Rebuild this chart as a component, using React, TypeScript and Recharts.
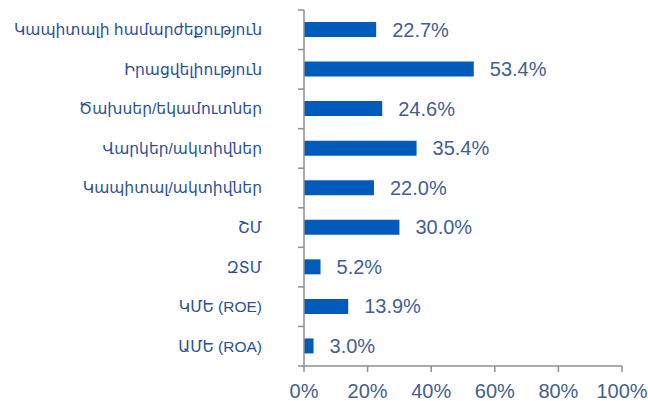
import { Bar, BarChart, LabelList, XAxis, YAxis } from 'recharts';

const categories = [
  'Կապիտալի համարժեքություն',
  'Իրացվելիություն',
  'Ծախսեր/եկամուտներ',
  'Վարկեր/ակտիվներ',
  'Կապիտալ/ակտիվներ',
  'ՇՄ',
  'ԶՏՄ',
  'ԿՄԵ (ROE)',
  'ԱՄԵ (ROA)',
];
const values = [22.7, 53.4, 24.6, 35.4, 22.0, 30.0, 5.2, 13.9, 3.0];
const xTicks = [0, 20, 40, 60, 80, 100];

const data = categories.map((name, i) => ({ name, value: values[i] }));

const FONT = '"Liberation Sans", Arial, "DejaVu Sans", sans-serif';
const AXIS = '#8f8f8f';

// category label plus Excel-style tick marks on the band edges
function CategoryTick(props: any) {
  const { x, y, payload, index, visibleTicksCount } = props;
  const half = payload.offset ?? 0;
  const axisX = x + 42;
  const last = index === (visibleTicksCount ?? categories.length) - 1;
  return (
    <g>
      <line x1={axisX - 6} x2={axisX} y1={y - half} y2={y - half} stroke={AXIS} strokeWidth={1.5} />
      {last && <line x1={axisX - 6} x2={axisX} y1={y + half} y2={y + half} stroke={AXIS} strokeWidth={1.5} />}
      <text x={x} y={y} dy="0.35em" textAnchor="end" fontSize={15.5} fill="#2a4f98" fontFamily={FONT}>
        {payload.value}
      </text>
    </g>
  );
}

export default function App() {
  return (
    <div style={{ position: 'absolute', left: 0, top: 0, width: 648, height: 401, background: '#fff', fontFamily: FONT }}>
      <BarChart
        width={648}
        height={401}
        data={data}
        layout="vertical"
        margin={{ top: 10, right: 26, bottom: 0, left: 0 }}
        barSize={15}
      >
        <XAxis
          type="number"
          domain={[0, 100]}
          ticks={xTicks}
          tickFormatter={(v) => `${v}%`}
          height={35}
          stroke={AXIS}
          strokeWidth={1.5}
          tickSize={6}
          tickMargin={12}
          tick={{ fontSize: 20, fill: '#44608f', fontFamily: FONT }}
          interval={0}
        />
        <YAxis
          type="category"
          dataKey="name"
          width={304}
          stroke={AXIS}
          strokeWidth={1.5}
          tickLine={false}
          tickSize={0}
          tickMargin={42}
          interval={0}
          tick={<CategoryTick />}
        />
        <Bar dataKey="value" fill="#005bbb" isAnimationActive={false}>
          <LabelList
            dataKey="value"
            position="right"
            offset={16}
            formatter={(v: number) => `${v.toFixed(1)}%`}
            style={{ fontSize: 20, fill: '#44608f', fontFamily: FONT }}
          />
        </Bar>
      </BarChart>
    </div>
  );
}
